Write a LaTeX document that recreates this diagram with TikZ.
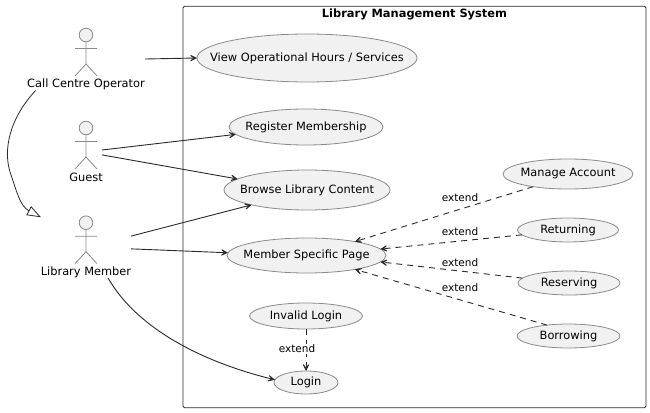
\documentclass[tikz,border=0pt]{standalone}
\usepackage{fontspec}
\setmainfont{DejaVu Sans}
\usetikzlibrary{shapes.geometric,arrows.meta}
\definecolor{ucfill}{HTML}{F1F1F1}
\definecolor{ucline}{HTML}{8A8A8A}
\definecolor{ink}{HTML}{2A2A2A}
\newcommand{\uctext}[1]{\makebox[0pt]{#1}}
\newcommand{\stickfigure}[2]{%
  \draw[actorline,fill=ucfill] (#1,#2) circle[radius=6.8];
  \draw[actorline] (#1,#2+7) -- (#1,#2+29)
    (#1-11,#2+13.5) -- (#1+11,#2+13.5)
    (#1-11,#2+41) -- (#1,#2+29) -- (#1+11,#2+41);}
\tikzset{
  x=1pt,y=-1pt,
  every node/.style={text=black,font=\fontsize{11.4}{13}\selectfont},
  actorline/.style={draw=ucline,line width=0.8pt},
  usecase/.style={ellipse,draw=ucline,fill=ucfill,line width=0.8pt,inner sep=0pt,outer sep=0pt},
  actorbox/.style={rectangle,inner sep=0pt,outer sep=0pt},
  tip/.style={-{Stealth[length=10.5pt,width=10.5pt,inset=7pt]}},
  assoc/.style={tip,draw=ink,line width=0.9pt},
  ext/.style={tip,draw=ink,line width=0.9pt,dash pattern=on 6pt off 5pt},
  extlabel/.style={inner sep=0.5pt,font=\fontsize{10.5}{12}\selectfont},
}
\begin{document}
\begin{tikzpicture}
\useasboundingbox (0,0) rectangle (650,412);
\node[draw=ink,line width=0.8pt,rounded corners=1.5pt,rectangle,minimum width=463,minimum height=401.5,inner sep=0pt] (sys) at (414.5,207) {};
\node[font=\fontsize{11.4}{13}\selectfont\bfseries,inner sep=0pt] (title) at (414.5,14) {Library Management System};

\stickfigure{86}{35}
\stickfigure{86}{128}
\stickfigure{86}{222.7}
\node[inner sep=0pt] (oplabel) at (86,84) {Call Centre Operator};
\node[inner sep=0pt] (guestlabel) at (86,177) {Guest};
\node[inner sep=0pt] (memlabel) at (86,272) {Library Member};
\node[actorbox,minimum width=118,minimum height=63] (op) at (86,59) {};
\node[actorbox,minimum width=32,minimum height=60] (guest) at (86,150) {};
\node[actorbox,minimum width=90,minimum height=63] (mem) at (86,246.5) {};

\node[usecase,minimum width=220,minimum height=48] (view) at (307,58) {\uctext{View Operational Hours / Services}};
\node[usecase,minimum width=154,minimum height=36] (reg) at (306,127) {\uctext{Register Membership}};
\node[usecase,minimum width=166,minimum height=40] (browse) at (307,190) {\uctext{Browse Library Content}};
\node[usecase,minimum width=159,minimum height=35] (page) at (306.5,255.5) {\uctext{Member Specific Page}};
\node[usecase,minimum width=113,minimum height=26] (invalid) at (306,316) {\uctext{Invalid Login}};
\node[usecase,minimum width=64,minimum height=23] (login) at (306,382.5) {\uctext{Login}};
\node[usecase,minimum width=130,minimum height=30] (manage) at (568,174) {\uctext{Manage Account}};
\node[usecase,minimum width=101,minimum height=24] (ret) at (568,230) {\uctext{Returning}};
\node[usecase,minimum width=102,minimum height=24] (res) at (569,283) {\uctext{Reserving}};
\node[usecase,minimum width=103,minimum height=24] (bor) at (568.5,336) {\uctext{Borrowing}};

\draw[assoc] (op.east) -- (view.180.5);
\draw[assoc] (guest.0) -- (reg.186);
\draw[assoc] (guest.-17) -- (browse.171);
\draw[assoc] (mem.13) -- (browse.195);
\draw[assoc] (mem.-3) -- (page.178);
\draw[assoc] (mem.-55) .. controls (135,325) and (195,360) .. (login.175);
\draw[draw=ink,line width=0.8pt,-{Triangle[open,length=14pt,width=10pt,fill=white]}] (op.212.7) .. controls (10,118) and (2,150) .. (11,175) .. controls (17,192) and (20,206) .. (mem.147.7);

\draw[ext] (manage.200) -- (page.16.3);
\draw[ext] (ret.186) -- (page.5.9);
\draw[ext] (res.174) -- (page.-5.9);
\draw[ext] (bor.153) -- (page.-16.7);
\draw[ext] (invalid.south) -- (login.north);
\node[extlabel] (e1) at (460,198) {extend};
\node[extlabel] (e2) at (460,232) {extend};
\node[extlabel] (e3) at (460,263) {extend};
\node[extlabel] (e4) at (460,288) {extend};
\node[extlabel,fill=white] (e5) at (297,349) {extend};
\end{tikzpicture}
\end{document}
